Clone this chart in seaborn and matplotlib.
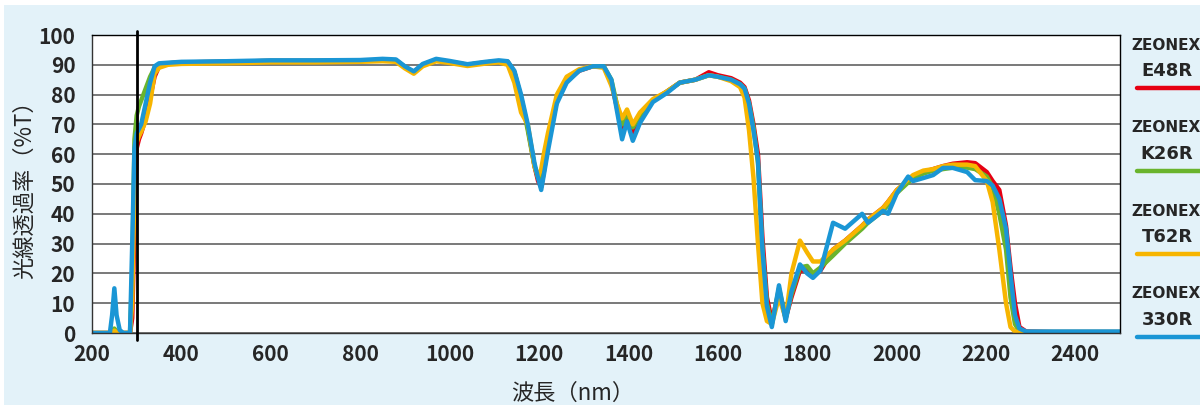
import numpy as np
import pandas as pd
import seaborn as sns
import matplotlib
matplotlib.use("Agg")
import matplotlib.pyplot as plt
from matplotlib.patches import Rectangle
from matplotlib import font_manager

# ---- data -------------------------------------------------------------
wavelength = [
    200, 240, 245, 250, 255, 262, 270, 285, 290, 295, 300, 305, 310, 320, 330, 340, 350, 370,
    400, 500, 600, 700, 800, 850, 880, 900, 920, 940, 970, 1000, 1040, 1080, 1110, 1130,
    1145, 1160, 1175, 1190, 1198, 1205, 1212, 1220, 1240, 1262, 1290, 1320, 1345, 1362, 1374,
    1386, 1397, 1410, 1426, 1455, 1486, 1515,
    1550, 1580, 1600, 1630, 1650, 1660, 1670, 1680, 1690, 1700, 1710, 1721, 1737, 1752, 1765,
    1784, 1800, 1813, 1830,
    1858, 1885, 1923, 1936, 1970, 1981, 2001, 2026, 2037, 2060, 2082, 2104, 2126, 2158, 2176,
    2202, 2215, 2230, 2245, 2255, 2265, 2275, 2290, 2350, 2400, 2450, 2500,
]

t_e48r = [
    0, 0, 0.5, 1, 0.5, 0, 0, 0, 5, 35, 62, 65, 67, 72, 79, 86, 89.5, 90.5,
    90.8, 91, 91.3, 91.3, 91.4, 91.6, 91.5, 89.3, 87.5, 90, 91.7, 91, 90, 90.8, 91.2, 91,
    87.5, 79, 69, 56, 51, 49, 55, 63, 78, 84.5, 88, 89.5, 89.3, 84, 76,
    68, 73, 67, 72, 78, 81, 84,
    85, 87.5, 86.5, 85.5, 84, 82.5, 78, 70, 60, 32, 12, 4, 14, 5, 12,
    21, 21, 19, 21,
    28, 31, 36, 38, 42, 44, 48, 51, 52.5, 54, 55, 56, 56.8, 57.3, 57,
    54, 51, 48, 36, 22, 10, 2, 0.5, 0.3, 0.3, 0.3, 0.3,
]

t_k26r = [
    0, 0, 0.5, 1.5, 0.5, 0, 0, 0, 20, 65, 73, 76, 78, 82, 86, 89, 90, 90.5,
    90.8, 91, 91.3, 91.3, 91.4, 91.6, 91.5, 89.3, 87.5, 90, 91.7, 91, 90, 90.8, 91.2, 91,
    87.5, 79, 68, 56, 52, 51.5, 57, 64, 78, 85, 88.2, 89.5, 89.5, 85, 77,
    70, 74, 69, 73, 78, 81, 84,
    85, 86.5, 86, 85, 83.5, 82, 77, 69, 57, 28, 10, 3, 15, 5, 13,
    22, 22.5, 20, 22,
    26, 30, 35, 37, 41, 43, 47, 50.5, 52, 53.5, 54.5, 55, 55.5, 55.5, 55,
    52.5, 49, 40, 28, 12, 3, 0.5, 0.3, 0.3, 0.3, 0.3, 0.3,
]

t_t62r = [
    0, 0, 0.3, 0.8, 0.3, 0, 0, 0, 10, 50, 64, 66, 67.5, 71, 77, 87, 89, 90,
    90.3, 90.5, 90.8, 90.8, 91, 91.2, 91, 88.8, 87, 89.5, 91.2, 90.6, 89.6, 90.4, 90.8, 90,
    84, 74, 70, 56, 52.5, 55, 61, 67, 80, 86, 88.5, 89.5, 89, 83, 77,
    72, 75, 70, 74, 78.5, 81, 84,
    85, 86.5, 86, 84.5, 82.5, 79, 68, 52, 30, 10, 4, 3, 12, 5, 20,
    31, 27, 24, 24,
    28, 31, 36, 38, 42, 44, 48, 51.5, 53, 54.5, 55, 56, 56.5, 56.5, 56,
    51, 44, 28, 10, 2, 0.5, 0.3, 0.3, 0.3, 0.3, 0.3, 0.3,
]

t_330r = [
    0, 0, 6, 15, 6, 1, 0, 0, 30, 62, 67, 68.5, 70, 77, 84, 89.5, 90.5, 90.7,
    91, 91.2, 91.5, 91.5, 91.6, 92, 91.8, 89.5, 87.8, 90.3, 92, 91.3, 90.2, 91, 91.5, 91.2,
    88, 80, 70, 57, 52, 48, 54, 61, 77, 84, 88, 89.5, 89.5, 85, 75,
    65, 71, 64.5, 70.5, 77.5, 80.5, 84,
    85, 86.5, 86, 85, 83.5, 82, 77, 68, 58, 28, 9, 2, 16, 4, 14,
    23, 20, 18.5, 21,
    37, 35, 40, 37, 41, 40, 47, 52.5, 51, 52, 53, 55.4, 55.4, 54, 51.3,
    51, 49.5, 45, 35, 20, 6, 1.5, 0.5, 0.5, 0.5, 0.5, 0.5,
]

series_names = ["E48R", "K26R", "T62R", "330R"]
series_values = [t_e48r, t_k26r, t_t62r, t_330r]
series_colors = ["#e60012", "#6ab42d", "#f7b500", "#1a96d5"]

x_ticks = [200, 400, 600, 800, 1000, 1200, 1400, 1600, 1800, 2000, 2200, 2400]
y_ticks = [0, 10, 20, 30, 40, 50, 60, 70, 80, 90, 100]
marker_wavelength = 300

# ---- style -------------------------------------------------------------
sns.set_theme(style="white")
plt.rcParams["font.family"] = ["Noto Sans CJK JP", "DejaVu Sans"]

installed = {f.name for f in font_manager.fontManager.ttflist}
narrow = "Liberation Sans Narrow" in installed
legend_family = ["Liberation Sans Narrow"] if narrow else ["DejaVu Sans"]
brand_size = 13 if narrow else 11
name_size = 15 if narrow else 13

frames = []
for name, vals in zip(series_names, series_values):
    frames.append(pd.DataFrame({"wl": wavelength, "T": vals, "grade": name}))
df = pd.concat(frames, ignore_index=True)

fig = plt.figure(figsize=(12, 4.05), dpi=100, facecolor="white")
fig.patches.append(Rectangle((4 / 1200, 0), 1, 400 / 405, transform=fig.transFigure,
                             facecolor="#e3f2f9", edgecolor="none", zorder=-10))
ax = fig.add_axes([92 / 1200, 72 / 405, 1028 / 1200, 298 / 405])
ax.set_facecolor("white")

sns.lineplot(data=df, x="wl", y="T", hue="grade", hue_order=series_names,
             palette=dict(zip(series_names, series_colors)), estimator=None,
             sort=False, linewidth=3.2, legend=False, ax=ax)
for ln in ax.get_lines():
    ln.set_solid_joinstyle("round")
    ln.set_solid_capstyle("round")

ax.set_xlim(200, 2500)
ax.set_ylim(0, 100)
ax.set_xticks(x_ticks)
ax.set_yticks(y_ticks)
ax.yaxis.grid(True, color="#555555", linewidth=1.1)
ax.xaxis.grid(False)
ax.set_axisbelow(True)
for s in ax.spines.values():
    s.set_color("#333333")
    s.set_linewidth(1.0)
ax.spines["top"].set_color("black")
ax.spines["right"].set_color("black")

ax.tick_params(axis="x", direction="in", length=4, width=1, color="#333333",
               pad=8, labelsize=15)
ax.tick_params(axis="y", length=0, pad=12, labelsize=15)
for lab in ax.get_xticklabels() + ax.get_yticklabels():
    lab.set_fontweight("bold")

ax.set_xlabel("波長（nm）", fontsize=16)
ax.xaxis.set_label_coords(0.468, -0.165)
ax.set_ylabel("光線透過率（%T）", fontsize=16, labelpad=2)

# vertical marker line at 300 nm
ax.plot([marker_wavelength, marker_wavelength], [-0.025, 1.013], color="black",
        linewidth=2, transform=ax.get_xaxis_transform(), clip_on=False, zorder=5)

# legend on the right
for k, (name, col) in enumerate(zip(series_names, series_colors)):
    y0 = 45 + 83 * k
    fig.text(1166 / 1200, 1 - y0 / 405, "ZEONEX", ha="center", va="center",
             fontsize=brand_size, fontweight="bold", family=legend_family)
    fig.text(1167 / 1200, 1 - (y0 + 26) / 405, name, ha="center", va="center",
             fontsize=name_size, fontweight="bold", family=legend_family)
    yl = 1 - (y0 + 43) / 405
    fig.add_artist(plt.Line2D([1137 / 1200, 1.0], [yl, yl], color=col,
                              linewidth=3.2, transform=fig.transFigure))

fig.savefig("out.png", dpi=100, facecolor=fig.get_facecolor())
